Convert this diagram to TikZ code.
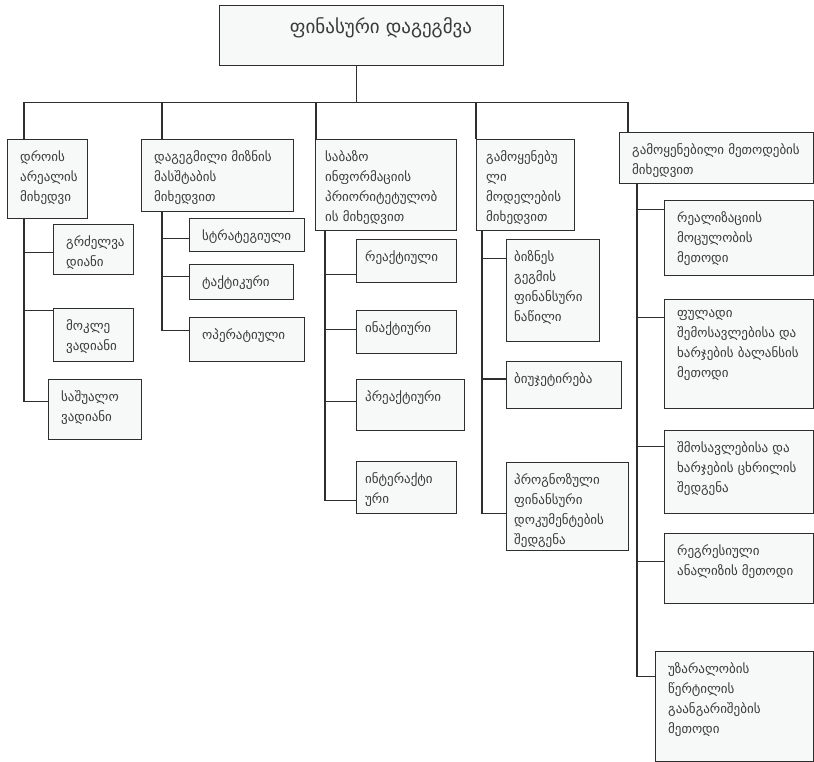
\documentclass[tikz,border=0pt]{standalone}
\usepackage{fontspec}
\setmainfont{DejaVu Sans}
\usepackage{xcolor}
\usepackage{tikz}
\usetikzlibrary{shapes,arrows,positioning,calc}

\definecolor{boxfill}{HTML}{F7F9F9}
\definecolor{boxline}{HTML}{2E2E2E}
\definecolor{txt}{HTML}{3A3A3A}

\tikzset{
    box/.style={draw=boxline, line width=1.1pt, fill=boxfill, anchor=north west, inner sep=0pt},
    lbl/.style={anchor=north west, align=left, inner sep=0pt, text=txt,
        font=\fontsize{13}{20}\selectfont, xshift=13pt, yshift=-11pt,
        execute at begin node=\rule{0pt}{10pt}},
    wire/.style={draw=boxline, line width=1.1pt}
}

\begin{document}
\begin{tikzpicture}[x=1pt, y=-1pt]
    \useasboundingbox (0,0) rectangle (814,762);

    % Root
    \node[box, minimum width=284, minimum height=60] (top) at (219,5) {};
    \node[text=txt, font=\fontsize{19}{22}\selectfont, anchor=base] (title) at (381,34) {ფინასური დაგეგმვა};

    % Categories
    \node[box, minimum width=80, minimum height=79,
        label={[lbl]north west:{დროის\\არეალის\\მიხედვი}}] (c1) at (7,139) {};
    \node[box, minimum width=152, minimum height=72,
        label={[lbl]north west:{დაგეგმილი მიზნის\\მასშტაბის\\მიხედვით}}] (c2) at (141,139) {};
    \node[box, minimum width=141, minimum height=91,
        label={[lbl, xshift=-3pt]north west:{საბაზო\\ინფორმაციის\\პრიორიტეტულობ\\ის მიხედვით}}] (c3) at (315,139) {};
    \node[box, minimum width=98, minimum height=91,
        label={[lbl, xshift=-3pt]north west:{გამოყენებუ\\ლი\\მოდელების\\მიხედვით}}] (c4) at (476,139) {};
    \node[box, minimum width=194, minimum height=51,
        label={[lbl]north west:{გამოყენებილი მეთოდების\\მიხედვით}}] (c5) at (619,132) {};

    % Bus from root
    \coordinate (bus) at ($(top.south)+(-5,36)$);
    \draw[wire] ($(top.south)+(-5,0)$) -- (bus);
    \draw[wire] (bus) -| ($(c1.north west)+(17,0)$);
    \draw[wire] (bus) -| ($(c2.north west)+(21,0)$);
    \draw[wire] (bus) -| ($(c3.north west)+(1,0)$);
    \draw[wire] (bus) -| (c4.north west);
    \draw[wire] (bus) -| ($(c5.north west)+(9,0)$);

    % Time horizon
    \node[box, minimum width=80, minimum height=50,
        label={[lbl]north west:{გრძელვა\\დიანი}}] (s11) at (53,224) {};
    \node[box, minimum width=80, minimum height=53,
        label={[lbl]north west:{მოკლე\\ვადიანი}}] (s12) at (53,308) {};
    \node[box, minimum width=93, minimum height=60,
        label={[lbl]north west:{საშუალო\\ვადიანი}}] (s13) at (48,379) {};
    \draw[wire] ($(c1.south west)+(17,0)$) |- ($(s11.north west)!0.56!(s11.south west)$);
    \draw[wire] ($(c1.south west)+(17,0)$) |- ($(s12.north west)!0.04!(s12.south west)$);
    \draw[wire] ($(c1.south west)+(17,0)$) |- ($(s13.north west)!0.37!(s13.south west)$);

    % Scale of goal
    \node[box, minimum width=115, minimum height=33,
        label={[lbl]north west:{სტრატეგიული}}] (s21) at (189,218) {};
    \node[box, minimum width=104, minimum height=35,
        label={[lbl]north west:{ტაქტიკური}}] (s22) at (189,264) {};
    \node[box, minimum width=115, minimum height=44,
        label={[lbl]north west:{ოპერატიული}}] (s23) at (189,317) {};
    \draw[wire] ($(c2.south west)+(21,0)$) |- ($(s21.north west)!0.6!(s21.south west)$);
    \draw[wire] ($(c2.south west)+(21,0)$) |- ($(s22.north west)!0.34!(s22.south west)$);
    \draw[wire] ($(c2.south west)+(21,0)$) |- ($(s23.north west)!0.3!(s23.south west)$);

    % Priority of base information
    \node[box, minimum width=100, minimum height=43,
        label={[lbl, xshift=-4pt]north west:{რეაქტიული}}] (s31) at (356,239) {};
    \node[box, minimum width=100, minimum height=43,
        label={[lbl, xshift=-4pt]north west:{ინაქტიური}}] (s32) at (356,310) {};
    \node[box, minimum width=108, minimum height=51,
        label={[lbl, xshift=-4pt]north west:{პრეაქტიური}}] (s33) at (356,379) {};
    \node[box, minimum width=100, minimum height=52,
        label={[lbl, xshift=-4pt]north west:{ინტერაქტი\\ური}}] (s34) at (356,461) {};
    \draw[wire] ($(c3.south west)+(10,0)$) |- ($(s31.north west)!0.81!(s31.south west)$);
    \draw[wire] ($(c3.south west)+(10,0)$) |- ($(s32.north west)!0.44!(s32.south west)$);
    \draw[wire] ($(c3.south west)+(10,0)$) |- ($(s33.north west)!0.43!(s33.south west)$);
    \draw[wire] ($(c3.south west)+(10,0)$) |- ($(s34.north west)!0.75!(s34.south west)$);

    % Models used
    \node[box, minimum width=93, minimum height=102,
        label={[lbl, xshift=-5pt]north west:{ბიზნეს\\გეგმის\\ფინანსური\\ნაწილი}}] (s41) at (506,239) {};
    \node[box, minimum width=115, minimum height=47,
        label={[lbl, xshift=-5pt]north west:{ბიუჯეტირება}}] (s42) at (506,361) {};
    \node[box, minimum width=122, minimum height=88,
        label={[lbl, xshift=-5pt]north west:{პროგნოზული\\ფინანსური\\დოკუმენტების\\შედგენა}}] (s43) at (506,462) {};
    \draw[wire] ($(c4.south west)+(6,0)$) |- ($(s41.north west)!0.19!(s41.south west)$);
    \draw[wire] ($(c4.south west)+(6,0)$) |- ($(s42.north west)!0.375!(s42.south west)$);
    \draw[wire] ($(c4.south west)+(6,0)$) |- ($(s43.north west)!0.58!(s43.south west)$);

    % Methods used
    \node[box, minimum width=149, minimum height=75,
        label={[lbl]north west:{რეალიზაციის\\მოცულობის\\მეთოდი}}] (s51) at (664,200) {};
    \node[box, minimum width=149, minimum height=109,
        label={[lbl]north west:{ფულადი\\შემოსავლებისა და\\ხარჯების ბალანსის\\მეთოდი}}] (s52) at (664,299) {};
    \node[box, minimum width=149, minimum height=83,
        label={[lbl]north west:{შმოსავლებისა და\\ხარჯების ცხრილის\\შედგენა}}] (s53) at (664,430) {};
    \node[box, minimum width=149, minimum height=70,
        label={[lbl]north west:{რეგრესიული\\ანალიზის მეთოდი}}] (s54) at (664,533) {};
    \node[box, minimum width=158, minimum height=110,
        label={[lbl]north west:{უზარალობის\\წერტილის\\გაანგარიშების\\მეთოდი}}] (s55) at (655,651) {};
    \draw[wire] ($(c5.south west)+(18,0)$) |- ($(s51.north west)!0.13!(s51.south west)$);
    \draw[wire] ($(c5.south west)+(18,0)$) |- ($(s52.north west)!0.17!(s52.south west)$);
    \draw[wire] ($(c5.south west)+(18,0)$) |- ($(s53.north west)!0.2!(s53.south west)$);
    \draw[wire] ($(c5.south west)+(18,0)$) |- ($(s54.north west)!0.4!(s54.south west)$);
    \draw[wire] ($(c5.south west)+(18,0)$) |- ($(s55.north west)!0.23!(s55.south west)$);
\end{tikzpicture}
\end{document}
